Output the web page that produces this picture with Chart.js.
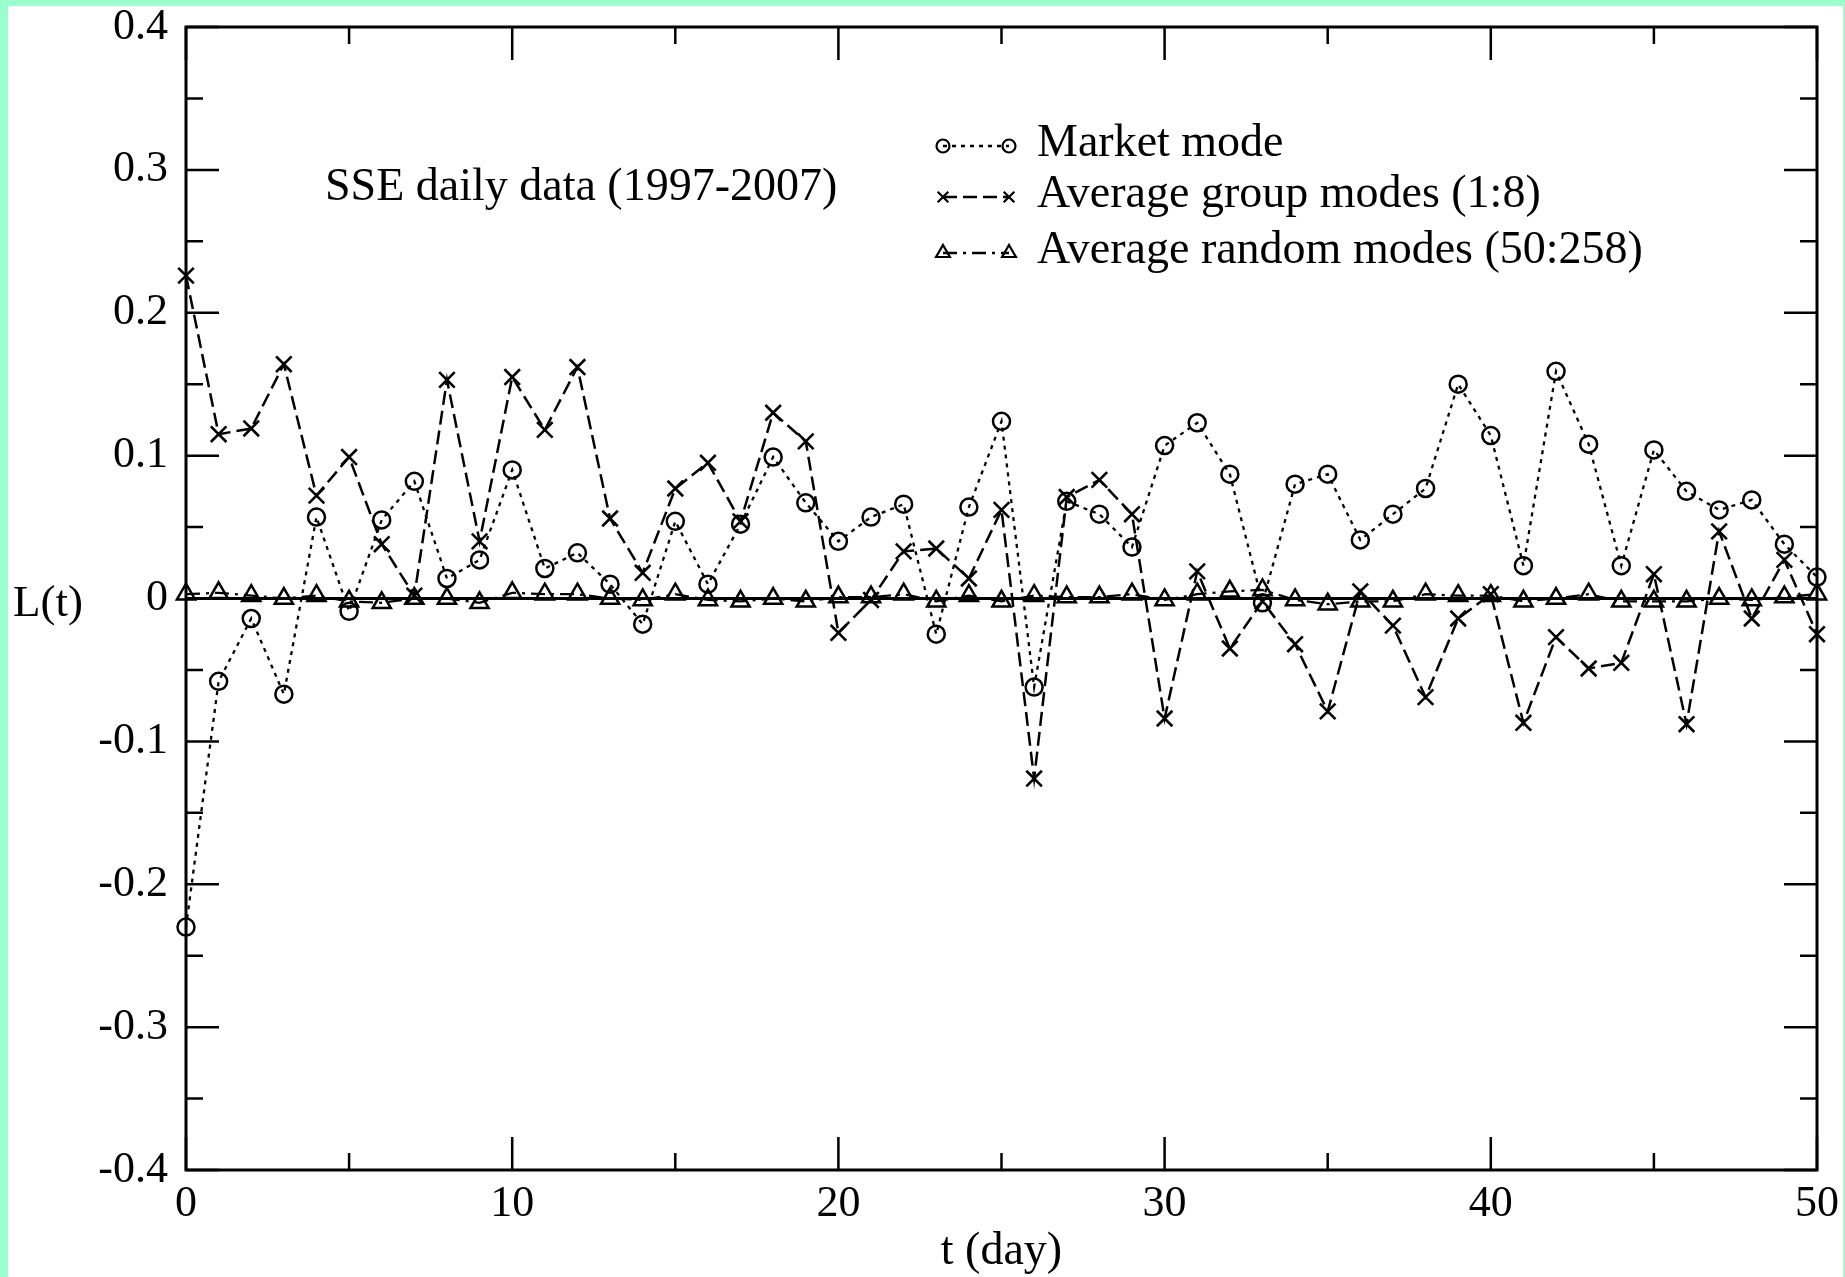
<!DOCTYPE html>
<html>
<head>
<meta charset="utf-8">
<script src="https://cdn.jsdelivr.net/npm/chart.js@4.4.0/dist/chart.umd.min.js"></script>
<style>
html,body{margin:0;padding:0;background:#99ffcc;width:1845px;height:1277px;overflow:hidden;}
#wrap{position:absolute;left:8px;top:6px;width:1835px;height:1271px;background:#ffffff;}
canvas{display:block;}
</style>
</head>
<body>
<div id="wrap"><canvas id="c" width="1835" height="1271"></canvas></div>
<script>
// ---------------- data ----------------
const days = [0,1,2,3,4,5,6,7,8,9,10,11,12,13,14,15,16,17,18,19,20,21,22,23,24,25,26,27,28,29,30,31,32,33,34,35,36,37,38,39,40,41,42,43,44,45,46,47,48,49,50];

const marketMode = [
  -0.230, -0.058, -0.014, -0.067, 0.057, -0.009, 0.055, 0.082, 0.014, 0.027,
   0.090,  0.021,  0.032,  0.010, -0.018, 0.054, 0.010, 0.052, 0.099, 0.067,
   0.040,  0.057,  0.066, -0.025, 0.064, 0.124, -0.062, 0.068, 0.059, 0.036,
   0.107,  0.123,  0.087, -0.003, 0.080, 0.087, 0.041, 0.059, 0.077, 0.150,
   0.114,  0.023,  0.159,  0.108, 0.023, 0.104, 0.075, 0.062, 0.069, 0.038,
   0.015
];

const groupModes = [
   0.226,  0.115,  0.119,  0.164, 0.072, 0.099, 0.038, 0.002, 0.153, 0.040,
   0.155,  0.118,  0.162,  0.056, 0.018, 0.077, 0.095, 0.054, 0.130, 0.110,
  -0.024, -0.001,  0.033,  0.035, 0.014, 0.062, -0.126, 0.071, 0.083, 0.059,
  -0.084,  0.019, -0.035, -0.002, -0.032, -0.079, 0.005, -0.019, -0.069, -0.014,
   0.003, -0.087, -0.027, -0.049, -0.045, 0.017, -0.088, 0.047, -0.014, 0.027,
  -0.025
];

const randomModes = [
   0.003,  0.004,  0.002,  0.000, 0.002, -0.002, -0.003, 0.000, 0.000, -0.003,
   0.004,  0.003,  0.003,  0.000, -0.001, 0.003, -0.001, -0.002, 0.000, -0.002,
   0.001,  0.001,  0.003, -0.002, 0.002, -0.002, 0.002, 0.001, 0.001, 0.003,
  -0.001,  0.003,  0.005,  0.006, -0.001, -0.004, -0.002, -0.002, 0.003, 0.002,
   0.002, -0.002,  0.000,  0.003, -0.002, -0.002, -0.002, 0.000, -0.001, 0.001,
   0.003
];

const zeroLineDays = [0, 50];
const zeroLineValues = [0, 0];

const seriesNames = ['Market mode', 'Average group modes (1:8)', 'Average random modes (50:258)'];
const annotationText = 'SSE daily data (1997-2007)';
const xAxisTitle = 't (day)';
const yAxisTitle = 'L(t)';

const xMajorTicks = [0, 10, 20, 30, 40, 50];
const xTickLabels = ['0', '10', '20', '30', '40', '50'];
const xMinorTicks = [5, 15, 25, 35, 45];
const yMajorTicks = [-0.4, -0.3, -0.2, -0.1, 0, 0.1, 0.2, 0.3, 0.4];
const yTickLabels = ['-0.4', '-0.3', '-0.2', '-0.1', '0', '0.1', '0.2', '0.3', '0.4'];
const yMinorTicks = [-0.35, -0.25, -0.15, -0.05, 0.05, 0.15, 0.25, 0.35];

// ---------------- helpers ----------------
const FONT = '"Liberation Serif", "Times New Roman", serif';
const toPoints = (xs, ys) => xs.map((x, i) => ({x: x, y: ys[i]}));

function drawMarker(ctx, style, r, x, y) {
  ctx.beginPath();
  if (style === 'circle') {
    ctx.arc(x, y, r, 0, Math.PI * 2);
  } else if (style === 'crossRot') {
    const o = r * Math.SQRT1_2;
    ctx.moveTo(x - o, y - o); ctx.lineTo(x + o, y + o);
    ctx.moveTo(x - o, y + o); ctx.lineTo(x + o, y - o);
  } else if (style === 'triangle') {
    ctx.moveTo(x, y - r);
    ctx.lineTo(x + r * Math.cos(Math.PI / 6), y + r / 2);
    ctx.lineTo(x - r * Math.cos(Math.PI / 6), y + r / 2);
    ctx.closePath();
  }
  ctx.stroke();
}

const zeroPad = s => { s.paddingTop = 0; s.paddingBottom = 0; s.paddingLeft = 0; s.paddingRight = 0; };

const framePlugin = {
  id: 'frame',
  beforeDatasetsDraw(chart) {
    const {ctx, chartArea: a, scales: {x, y}} = chart;
    ctx.save();
    ctx.strokeStyle = '#000';
    ctx.lineWidth = 2.5;
    ctx.setLineDash([]);
    const major = 33, minor = 17;
    ctx.beginPath();
    const xt = (vals, len) => vals.forEach(v => {
      const px = x.getPixelForValue(v);
      ctx.moveTo(px, a.bottom); ctx.lineTo(px, a.bottom - len);
      ctx.moveTo(px, a.top); ctx.lineTo(px, a.top + len);
    });
    const yt = (vals, len) => vals.forEach(v => {
      const py = y.getPixelForValue(v);
      ctx.moveTo(a.left, py); ctx.lineTo(a.left + len, py);
      ctx.moveTo(a.right, py); ctx.lineTo(a.right - len, py);
    });
    xt(xMajorTicks, major); xt(xMinorTicks, minor);
    yt(yMajorTicks, major); yt(yMinorTicks, minor);
    ctx.stroke();
    ctx.lineWidth = 3;
    ctx.strokeRect(a.left, a.top, a.right - a.left, a.bottom - a.top);
    ctx.restore();
  },
  afterDraw(chart) {
    const {ctx} = chart;
    ctx.save();
    ctx.fillStyle = '#000';
    ctx.textBaseline = 'alphabetic';
    ctx.textAlign = 'left';
    // y-axis title (horizontal)
    ctx.font = '45px ' + FONT;
    ctx.fillText(yAxisTitle, 5, 610);
    // annotation
    ctx.font = '46px ' + FONT;
    ctx.fillText(annotationText, 317, 194);
    // legend
    const rows = [150, 201, 257];
    const legendR = [6.5, 7.5, 8];
    for (let i = 0; i < 3; i++) {
      const ds = chart.data.datasets[i];
      const cy = rows[i] - 10;
      const x1 = 935, x2 = 1001;
      ctx.strokeStyle = '#000';
      ctx.lineWidth = ds.borderWidth;
      ctx.setLineDash(ds.borderDash);
      ctx.beginPath();
      ctx.moveTo(x1, cy); ctx.lineTo(x2, cy);
      ctx.stroke();
      ctx.setLineDash([]);
      ctx.lineWidth = 2.2;
      drawMarker(ctx, ds.pointStyle, legendR[i], x1, cy);
      drawMarker(ctx, ds.pointStyle, legendR[i], x2, cy);
      ctx.font = '46px ' + FONT;
      ctx.fillText(seriesNames[i], 1029, rows[i]);
    }
    ctx.restore();
  }
};

// ---------------- chart ----------------
new Chart(document.getElementById('c'), {
  type: 'line',
  data: {
    datasets: [
      {
        label: seriesNames[0],
        data: toPoints(days, marketMode),
        borderColor: '#000', borderWidth: 2.3, borderDash: [4, 5],
        pointStyle: 'circle', pointRadius: 8.5, pointBorderWidth: 2.5,
        pointBorderColor: '#000', pointBackgroundColor: 'rgba(0,0,0,0)',
        fill: false, tension: 0, clip: false
      },
      {
        label: seriesNames[1],
        data: toPoints(days, groupModes),
        borderColor: '#000', borderWidth: 2.5, borderDash: [14, 6],
        pointStyle: 'crossRot', pointRadius: 11, pointBorderWidth: 2.6,
        pointBorderColor: '#000', pointBackgroundColor: 'rgba(0,0,0,0)',
        fill: false, tension: 0, clip: false
      },
      {
        label: seriesNames[2],
        data: toPoints(days, randomModes),
        borderColor: '#000', borderWidth: 2.3, borderDash: [14, 6, 3, 6],
        pointStyle: 'triangle', pointRadius: 10.5, pointBorderWidth: 2.5,
        pointBorderColor: '#000', pointBackgroundColor: 'rgba(0,0,0,0)',
        fill: false, tension: 0, clip: false
      },
      {
        label: 'zero',
        data: toPoints(zeroLineDays, zeroLineValues),
        borderColor: '#000', borderWidth: 2.8, borderDash: [],
        pointRadius: 0, fill: false, tension: 0, clip: false
      }
    ]
  },
  options: {
    responsive: false,
    animation: false,
    devicePixelRatio: 1,
    layout: {padding: {top: 21, right: 26, left: 0, bottom: 0}},
    plugins: {legend: {display: false}, tooltip: {enabled: false}},
    scales: {
      x: {
        type: 'linear', position: 'bottom', min: 0, max: 50,
        afterBuildTicks: s => { s.ticks = xMajorTicks.map(v => ({value: v})); },
        afterFit: s => { s.height = 107; zeroPad(s); },
        grid: {display: false, drawTicks: false},
        border: {display: false},
        ticks: {
          color: '#000', font: {family: FONT, size: 44}, padding: 8,
          maxRotation: 0, autoSkip: false,
          callback: (v, i) => xTickLabels[i]
        },
        title: {
          display: true, text: xAxisTitle, color: '#000',
          font: {family: FONT, size: 46, lineHeight: 1}, padding: {top: 0, bottom: 2}
        }
      },
      y: {
        type: 'linear', position: 'left', min: -0.4, max: 0.4,
        afterBuildTicks: s => { s.ticks = yMajorTicks.map(v => ({value: v})); },
        afterFit: s => { s.width = 178; zeroPad(s); },
        grid: {display: false, drawTicks: false},
        border: {display: false},
        ticks: {
          color: '#000', font: {family: FONT, size: 44}, padding: 18,
          autoSkip: false,
          callback: (v, i) => yTickLabels[i]
        }
      }
    }
  },
  plugins: [framePlugin]
});
</script>
</body>
</html>
